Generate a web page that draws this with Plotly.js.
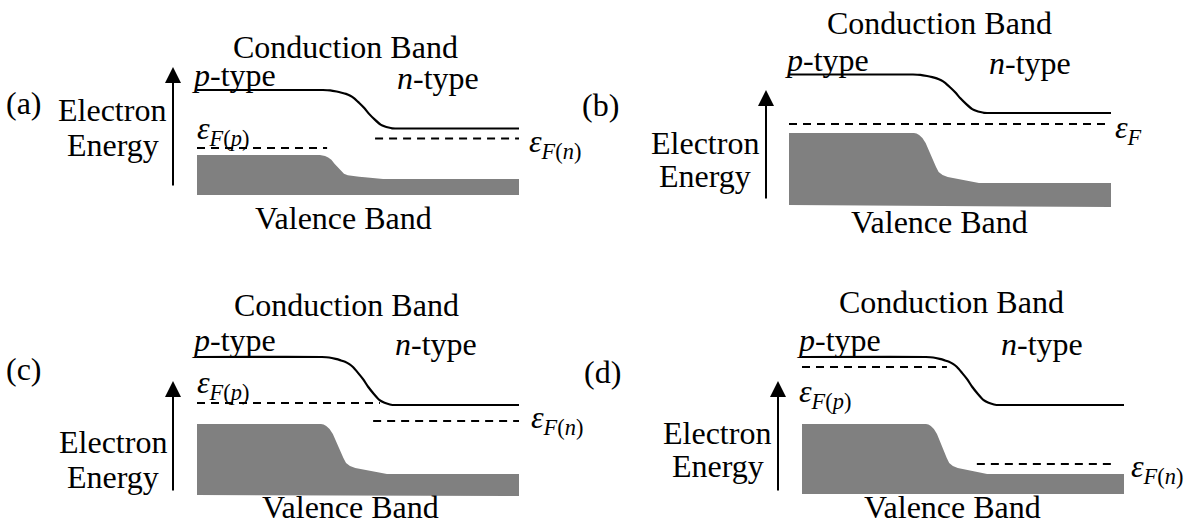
<!DOCTYPE html>
<html>
<head>
<meta charset="utf-8">
<script src="https://cdn.plot.ly/plotly-3.0.1.min.js"></script>
<style>html,body{margin:0;padding:0;background:#fff;}#chart{width:1188px;height:525px;}</style>
</head>
<body>
<div id="chart"></div>
<script>
// ---------- data (position along junction 0..10, electron energy in arbitrary units) ----------
const panelLabels = ['(a)', '(b)', '(c)', '(d)'];

// normalized band-bending shapes (fraction of width, fraction of drop)
const cbShapeX = [0, 0.10, 0.19, 0.26, 0.32, 0.38, 0.43, 0.50, 0.57, 0.64, 0.72, 0.80, 0.86, 0.91, 0.96, 1.0];
const cbShapeF = [0, 0.01, 0.04, 0.07, 0.10, 0.15, 0.21, 0.33, 0.46, 0.62, 0.77, 0.90, 0.95, 0.975, 0.995, 1.0];
const vbShapeX = [0, 0.04, 0.08, 0.13, 0.18, 0.23, 0.29, 0.34, 0.38, 0.44, 0.52, 0.62, 0.71, 0.80, 0.88, 1.0];
const vbShapeF = [0, 0.01, 0.04, 0.10, 0.20, 0.36, 0.54, 0.68, 0.78, 0.84, 0.88, 0.91, 0.93, 0.95, 0.97, 1.0];

// conduction band edge: p-side level, n-side level, bending start / end position
const cbP     = [10.5, 13.05, 13.8, 13.7];
const cbN     = [6.65, 9.2, 9.0, 8.9];
const cbStart = [3.91, 3.85, 3.88, 3.85];
const cbEnd   = [6.15, 6.15, 6.12, 6.09];

// valence band top: p-side, n-side, bending start / end, band bottom (left, right)
const vbP      = [4.0, 7.2, 7.1, 7.0];
const vbN      = [1.6, 2.2, 2.1, 2.0];
const vbStart  = [3.82, 3.88, 3.85, 3.85];
const vbEnd    = [5.78, 5.90, 5.90, 5.75];
const vbBottomL = [0, 0, 0, 0];
const vbBottomR = [0, -0.2, -0.1, 0];

// Fermi levels (p-side and n-side), with their horizontal extents
const efP      = [4.7, 8.1, 9.2, 12.7];
const efPFrom  = [0, 0, 0, 0];
const efPTo    = [4.04, 10, 5.68, 4.5];
const efN      = [5.65, null, 7.4, 3.0];
const efNFrom  = [5.53, null, 5.47, 5.43];
const efNTo    = [10, null, 10, 9.69];

// text labels
const cbText = 'Conduction Band';
const vbText = 'Valence Band';
const pText = '<i>p</i>-type';
const nText = '<i>n</i>-type';
const yText1 = 'Electron';
const yText2 = 'Energy';
const efPLabels = ['<i>ε</i><sub><i>F</i>(<i>p</i>)</sub>', '<i>ε</i><sub><i>F</i></sub>', '<i>ε</i><sub><i>F</i>(<i>p</i>)</sub>', '<i>ε</i><sub><i>F</i>(<i>p</i>)</sub>'];
const efNLabels = ['<i>ε</i><sub><i>F</i>(<i>n</i>)</sub>', null, '<i>ε</i><sub><i>F</i>(<i>n</i>)</sub>', '<i>ε</i><sub><i>F</i>(<i>n</i>)</sub>'];

// ---------- layout geometry (pixels) ----------
const W = 1188, H = 525;
const SX = 32.2, SY = 10;            // px per position unit / energy unit
const boxes = [
  {L: 197, B: 195, X0: 0,   X1: 594,  Y0: 0,   Y1: 262},
  {L: 789, B: 205, X0: 594, X1: 1188, Y0: 0,   Y1: 262},
  {L: 197, B: 495, X0: 0,   X1: 594,  Y0: 262, Y1: 525},
  {L: 802, B: 494, X0: 594, X1: 1188, Y0: 262, Y1: 525}
];
const textPos = [
  {lab: [24, 103], e1: [112, 110], e2: [113, 145], cb: [345, 47],  p: [234, 75],  n: [438, 78],  vb: [343, 218],
   arrow: [173, 187, 67], efp: [195, 130], efn: [527, 144]},
  {lab: [600, 105], e1: [705, 143], e2: [705, 176], cb: [940, 23], p: [827, 60],  n: [1030, 63], vb: [940, 222],
   arrow: [766, 200, 90], efp: [1113, 129], efn: null},
  {lab: [24, 369], e1: [113, 442], e2: [113, 477], cb: [346, 305], p: [234, 340], n: [436, 344], vb: [350, 507],
   arrow: [173, 492, 381], efp: [195, 384], efn: [529, 419]},
  {lab: [602, 372], e1: [717, 433], e2: [718, 466], cb: [951, 302], p: [839, 340], n: [1042, 344], vb: [952, 507],
   arrow: [778, 492, 381], efp: [797, 393], efn: [1129, 468]}
];

const FONT = {family: 'Liberation Serif, Times New Roman, serif', size: 32, color: '#000'};
const px = x => x / W;
const py = y => 1 - y / H;

function profile(p, n, s, e, shX, shF) {
  const xs = [0], ys = [p];
  for (let k = 0; k < shX.length; k++) {
    xs.push(s + shX[k] * (e - s));
    ys.push(p - shF[k] * (p - n));
  }
  xs.push(10); ys.push(n);
  return {xs, ys};
}

const traces = [];
const layout = {
  width: W, height: H,
  margin: {l: 0, r: 0, t: 0, b: 0},
  paper_bgcolor: '#fff', plot_bgcolor: 'rgba(0,0,0,0)',
  showlegend: false,
  font: FONT,
  annotations: []
};

for (let i = 0; i < 4; i++) {
  const s = i === 0 ? '' : String(i + 1);
  const xa = 'x' + s, ya = 'y' + s;
  const b = boxes[i];
  layout['xaxis' + s] = {
    domain: [b.X0 / W, b.X1 / W],
    range: [(b.X0 - b.L) / SX, (b.X1 - b.L) / SX],
    visible: false, fixedrange: true
  };
  layout['yaxis' + s] = {
    domain: [1 - b.Y1 / H, 1 - b.Y0 / H],
    range: [(b.B - b.Y1) / SY, (b.B - b.Y0) / SY],
    visible: false, fixedrange: true
  };

  // valence band (filled)
  const vb = profile(vbP[i], vbN[i], vbStart[i], vbEnd[i], vbShapeX, vbShapeF);
  traces.push({
    type: 'scatter', mode: 'lines', xaxis: xa, yaxis: ya,
    x: [0].concat(vb.xs, [10]),
    y: [vbBottomL[i]].concat(vb.ys, [vbBottomR[i]]),
    fill: 'toself', fillcolor: '#808080', line: {width: 0, color: '#808080'},
    hoverinfo: 'skip'
  });

  // conduction band edge
  const cb = profile(cbP[i], cbN[i], cbStart[i], cbEnd[i], cbShapeX, cbShapeF);
  traces.push({
    type: 'scatter', mode: 'lines', xaxis: xa, yaxis: ya,
    x: cb.xs, y: cb.ys, line: {color: '#000', width: 2.2, shape: 'spline', smoothing: 0.6}, hoverinfo: 'skip'
  });

  // Fermi levels
  traces.push({
    type: 'scatter', mode: 'lines', xaxis: xa, yaxis: ya,
    x: [efPFrom[i], efPTo[i]], y: [efP[i], efP[i]],
    line: {color: '#000', width: 2, dash: '8px,6px'}, hoverinfo: 'skip'
  });
  if (efN[i] !== null) {
    traces.push({
      type: 'scatter', mode: 'lines', xaxis: xa, yaxis: ya,
      x: [efNFrom[i], efNTo[i]], y: [efN[i], efN[i]],
      line: {color: '#000', width: 2, dash: '8px,6px'}, hoverinfo: 'skip'
    });
  }

  // texts
  const t = textPos[i];
  const add = (txt, pos, xanchor) => layout.annotations.push({
    xref: 'paper', yref: 'paper', x: px(pos[0]), y: py(pos[1]),
    text: txt, showarrow: false, xanchor: xanchor || 'center', yanchor: 'middle', font: FONT
  });
  add(panelLabels[i], t.lab);
  add(yText1, t.e1);
  add(yText2, t.e2);
  add(cbText, t.cb);
  add(pText, t.p);
  add(nText, t.n);
  add(vbText, t.vb);
  add(efPLabels[i], t.efp, 'left');
  if (t.efn) add(efNLabels[i], t.efn, 'left');

  // energy axis arrow
  layout.annotations.push({
    xref: 'paper', yref: 'paper', x: px(t.arrow[0]), y: py(t.arrow[2]),
    axref: 'pixel', ayref: 'pixel', ax: 0, ay: t.arrow[1] - t.arrow[2],
    text: '', showarrow: true, arrowhead: 2, arrowsize: 1.6, arrowwidth: 2, arrowcolor: '#000'
  });
}

Plotly.newPlot('chart', traces, layout, {staticPlot: true, displayModeBar: false});
</script>
</body>
</html>
